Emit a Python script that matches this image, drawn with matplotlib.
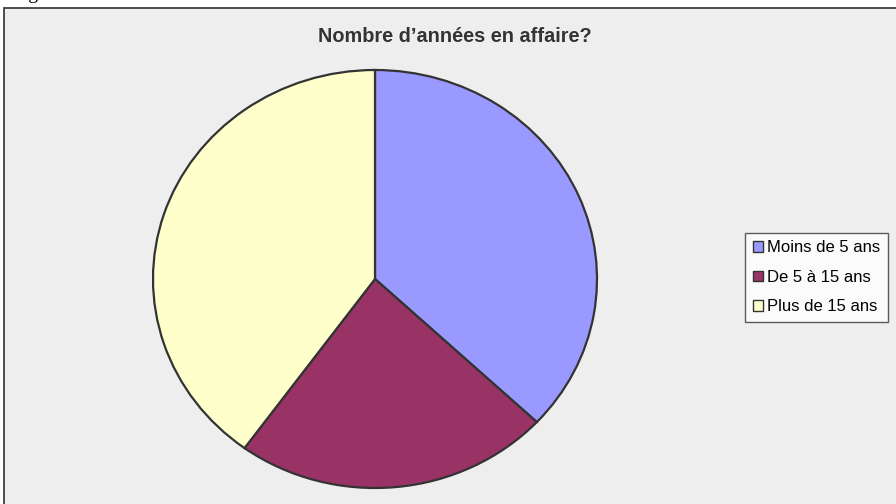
import matplotlib.pyplot as plt
from matplotlib.patches import Rectangle

# données du graphique
labels = ['Moins de 5 ans', 'De 5 à 15 ans', 'Plus de 15 ans']
values = [37, 23, 40]
colors = ['#9999ff', '#993366', '#ffffcc']
title = 'Nombre d\u2019années en affaire?'

W, H = 896, 504
fig = plt.figure(figsize=(W / 100, H / 100), dpi=100)
fig.patch.set_facecolor('white')

# cadre gris du graphique
frame = Rectangle((4 / W, -0.1), 1.1, (H - 8) / H + 0.1, transform=fig.transFigure,
                  facecolor='#eeeeee', edgecolor='#404040', linewidth=1.3, zorder=-5)
fig.patches.append(frame)

# légende de la figure, coupée en haut
fig.text(12 / W, 1 + 1 / H, 'Figure 3', family='Liberation Serif', fontsize=14,
         va='baseline', ha='left', color='black')

fig.text(455 / W, 1 - 36 / H, title, family='Liberation Sans', fontsize=14.3,
         fontweight='bold', color='#333333', ha='center', va='center')

# camembert
ax = fig.add_axes([153 / W, 1 - 488 / H, (597 - 153) / W, (488 - 70) / H], zorder=2)
wedges, _ = ax.pie(values, colors=colors, startangle=90, counterclock=False,
                   wedgeprops=dict(edgecolor='#333333', linewidth=1.6))
ax.set_aspect('auto')
ax.set_xlim(-1, 1)
ax.set_ylim(-1, 1)
ax.axis('off')
for w in wedges:
    w.set_clip_on(False)

leg = fig.legend(wedges, labels, loc='upper left', bbox_to_anchor=(745 / W, 1 - 233 / H),
                 bbox_transform=fig.transFigure, frameon=True, fancybox=False,
                 prop=dict(family='Liberation Sans', size=12),
                 handlelength=0.62, handleheight=0.62, handletextpad=0.25,
                 labelspacing=0.86, borderpad=0.45, borderaxespad=0)
leg.get_frame().set_edgecolor('#333333')
leg.get_frame().set_linewidth(1.0)
leg.get_frame().set_facecolor('white')
leg.set_zorder(3)
for h in leg.legend_handles:
    h.set_edgecolor('#333333')
    h.set_linewidth(1.0)

fig.savefig('out.png', dpi=100, facecolor=fig.get_facecolor())
